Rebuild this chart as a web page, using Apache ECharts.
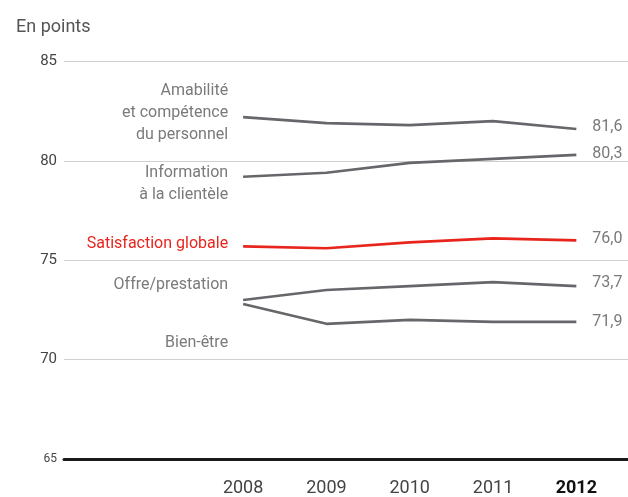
<!DOCTYPE html>
<html>
<head>
<meta charset="utf-8">
<script src="https://cdn.jsdelivr.net/npm/echarts@6/dist/echarts.min.js"></script>
<style>
  html, body { margin: 0; padding: 0; background: #fff; }
  #chart { width: 628px; height: 497px; }
</style>
</head>
<body>
<div id="chart"></div>
<script>
// Survey years and index scores (points)
const years = [2008, 2009, 2010, 2011, 2012];
const yTicks = [65, 70, 75, 80, 85];

const amabilite    = [82.2, 81.9, 81.8, 82.0, 81.6];
const information  = [79.2, 79.4, 79.9, 80.1, 80.3];
const satisfaction = [75.7, 75.6, 75.9, 76.1, 76.0];
const offre        = [73.0, 73.5, 73.7, 73.9, 73.7];
const bienEtre     = [72.8, 71.8, 72.0, 71.9, 71.9];

const FONT = 'Roboto, "Liberation Sans", sans-serif';
const GREY_LINE = '#67676b';
const RED = '#e8251d';
const TEXT_GREY = '#7a7a7a';

function makeSeries(name, values, color, textColor, startLabel, startOffset, endOffset) {
  const data = values.map((v, i) => {
    const item = { value: [years[i], v] };
    if (i === 0) {
      item.label = {
        show: true,
        position: 'left',
        distance: 15,
        align: 'right',
        offset: startOffset,
        formatter: startLabel,
        color: textColor,
        fontFamily: FONT,
        fontSize: 16,
        lineHeight: 22
      };
    }
    return item;
  });
  return {
    name: name,
    type: 'line',
    data: data,
    symbol: 'circle',
    symbolSize: 0,
    showSymbol: true,
    lineStyle: { color: color, width: 2.6 },
    itemStyle: { color: color },
    emphasis: { disabled: true },
    label: { show: false },
    endLabel: {
      show: true,
      distance: 16,
      offset: endOffset,
      color: TEXT_GREY,
      fontFamily: FONT,
      fontSize: 16,
      formatter: p => p.value[1].toFixed(1).replace('.', ',')
    },
    z: color === RED ? 5 : 3
  };
}

const chart = echarts.init(document.getElementById('chart'), null, { renderer: 'canvas' });

chart.setOption({
  animation: false,
  backgroundColor: '#fff',
  title: {
    text: 'En points',
    left: 11,
    top: 13,
    textStyle: { fontFamily: FONT, fontSize: 18, fontWeight: 'normal', color: '#555' }
  },
  grid: { left: 64, right: 0, top: 61.5, bottom: 35, containLabel: false },
  xAxis: {
    type: 'value',
    min: 2005.85,
    max: 2012.62,
    axisLine: { show: true, lineStyle: { color: '#1a1a1a', width: 3 } },
    axisTick: { show: false },
    splitLine: { show: false },
    axisLabel: {
      customValues: years,
      margin: 20,
      fontFamily: FONT,
      fontSize: 18,
      color: '#444',
      formatter: v => v === 2012 ? '{b|' + v + '}' : String(v),
      rich: { b: { fontFamily: FONT, fontSize: 18, fontWeight: 'bold', color: '#111' } }
    }
  },
  yAxis: {
    type: 'value',
    min: 65,
    max: 85,
    interval: 5,
    axisLine: { show: false },
    axisTick: { show: false },
    splitLine: { show: true, lineStyle: { color: '#cfcfcf', width: 1 } },
    axisLabel: {
      margin: 7,
      fontFamily: FONT,
      fontSize: 15,
      color: '#444',
      formatter: v => yTicks.includes(v) ? (v === 65 ? '{s|' + v + '}' : String(v)) : '',
      rich: { s: { fontFamily: FONT, fontSize: 12, color: '#444' } }
    }
  },
  series: [
    makeSeries('Amabilité', amabilite, GREY_LINE, TEXT_GREY,
      'Amabilité\net compétence\ndu personnel', [0, -4], [0, -2]),
    makeSeries('Information', information, GREY_LINE, TEXT_GREY,
      'Information\nà la clientèle', [0, 7], [0, -1]),
    makeSeries('Satisfaction globale', satisfaction, RED, RED,
      'Satisfaction globale', [0, -2], [0, -1]),
    makeSeries('Offre/prestation', offre, GREY_LINE, TEXT_GREY,
      'Offre/prestation', [0, -15], [0, -3]),
    makeSeries('Bien-être', bienEtre, GREY_LINE, TEXT_GREY,
      'Bien-être', [0, 39], [0, 0])
  ]
});
</script>
</body>
</html>
